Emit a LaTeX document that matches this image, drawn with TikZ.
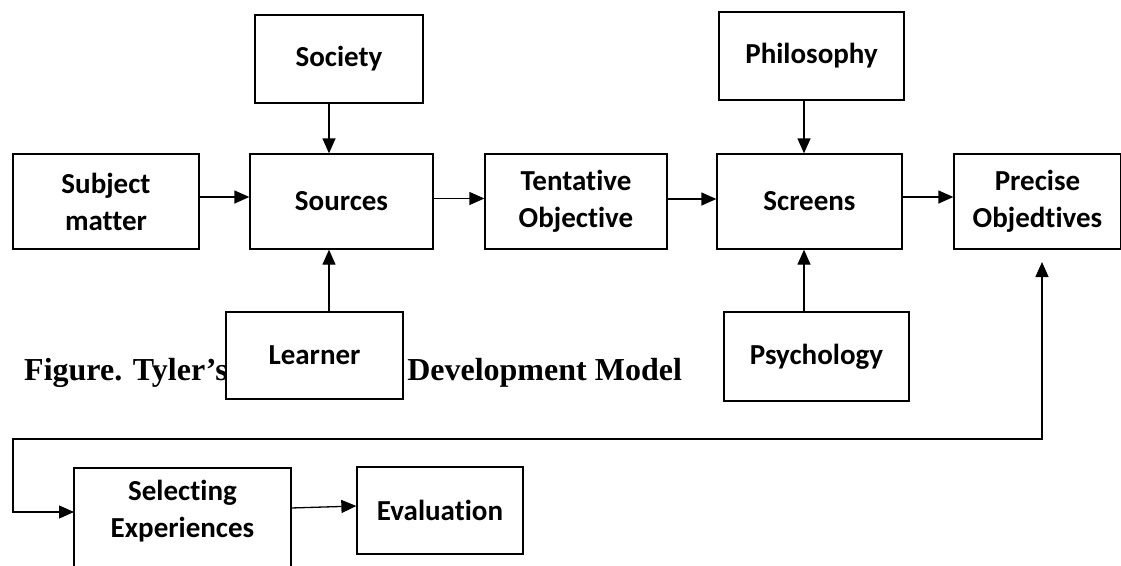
\documentclass[tikz,border=0pt]{standalone}
\usepackage{fontspec}
\setmainfont{Carlito}[Ligatures=NoCommon]
\newfontfamily\capfont{Liberation Serif}
\usetikzlibrary{arrows.meta}
\begin{document}
\begin{tikzpicture}[x=1pt,y=-1pt,
  boxline/.style={line width=1.3pt},
  tbox/.style={draw, boxline, fill=white, align=center, inner sep=0pt,
    font=\fontsize{29}{37}\selectfont\bfseries},
  arr/.style={line width=1.3pt, -{Triangle[length=15pt,width=13pt]}},
  dbl/.style={line width=1.3pt, {Triangle[length=15pt,width=13pt]}-{Triangle[length=15pt,width=13pt]}}]
\useasboundingbox (0,0) rectangle (1121,565);
\clip (0,0) rectangle (1121,565);
% caption (partly hidden behind the Learner box)
\node[anchor=base west, inner sep=0pt, font=\fontsize{32}{38}\selectfont\capfont\bfseries] (cap) at (24,380) {Figure. Tyler’s Curriculum Development Model};
% main row
\node[tbox, minimum width=186pt, minimum height=95pt] (subj) at (106,201.5) {Subject\\matter};
\node[tbox, minimum width=183pt, minimum height=95pt] (src) at (341.5,201.5) {Sources};
\node[tbox, minimum width=182pt, minimum height=95pt] (tent) at (576,201.5) {Tentative\\Objective};
\node[tbox, minimum width=185pt, minimum height=95pt] (scr) at (809.5,201.5) {Screens};
\node[tbox, minimum width=167pt, minimum height=95pt] (prec) at (1037.5,201.5) {Precise\\Objedtives};
% upper / lower inputs
\node[tbox, minimum width=168pt, minimum height=88pt] (soc) at (339,59) {Society};
\node[tbox, minimum width=185pt, minimum height=88pt] (phil) at (811.5,56) {Philosophy};
\node[tbox, minimum width=177pt, minimum height=87pt] (lrn) at (314.5,355.5) {\raisebox{-3pt}{Learner}};
\node[tbox, minimum width=185pt, minimum height=89pt] (psy) at (816.5,356.5) {Psychology};
% bottom row
\node[tbox, draw=none, minimum width=217pt, minimum height=86pt] (sel) at (182.5,511) {Selecting\\Experiences};
\draw[boxline] (74,575) -- (74,468) -- (291,468) -- (291,575);
\node[tbox, minimum width=166pt, minimum height=87pt] (eval) at (440,510.5) {Evaluation};
% helper coordinates
\coordinate (lx) at (329,0);
\coordinate (px) at (804,0);
\coordinate (fbtop) at (1042,262);
\coordinate (fbcorner) at (1042,439);
\coordinate (fbleft) at (13,512);
\coordinate (selin) at (74,512);
% connectors
\draw[arr] ([yshift=4.5pt]subj.east) -- ([yshift=4.5pt]src.west);
\draw[arr] ([yshift=3pt]src.east) -- ([yshift=3pt]tent.west);
\draw[arr] ([yshift=2.5pt]tent.east) -- ([yshift=2.5pt]scr.west);
\draw[arr] ([yshift=4.5pt]scr.east) -- ([yshift=4.5pt]prec.west);
\draw[arr] (soc.south -| lx) -- (src.north -| lx);
\draw[arr] (lrn.north -| lx) -- (src.south -| lx);
\draw[arr] (phil.south -| px) -- (scr.north -| px);
\draw[arr] (psy.north -| px) -- (scr.south -| px);
\draw[dbl] (fbtop) -- (fbcorner) -| (fbleft) -- (selin);
\draw[arr] (291,508) -- (eval.west |- 0,506);
\end{tikzpicture}
\end{document}
